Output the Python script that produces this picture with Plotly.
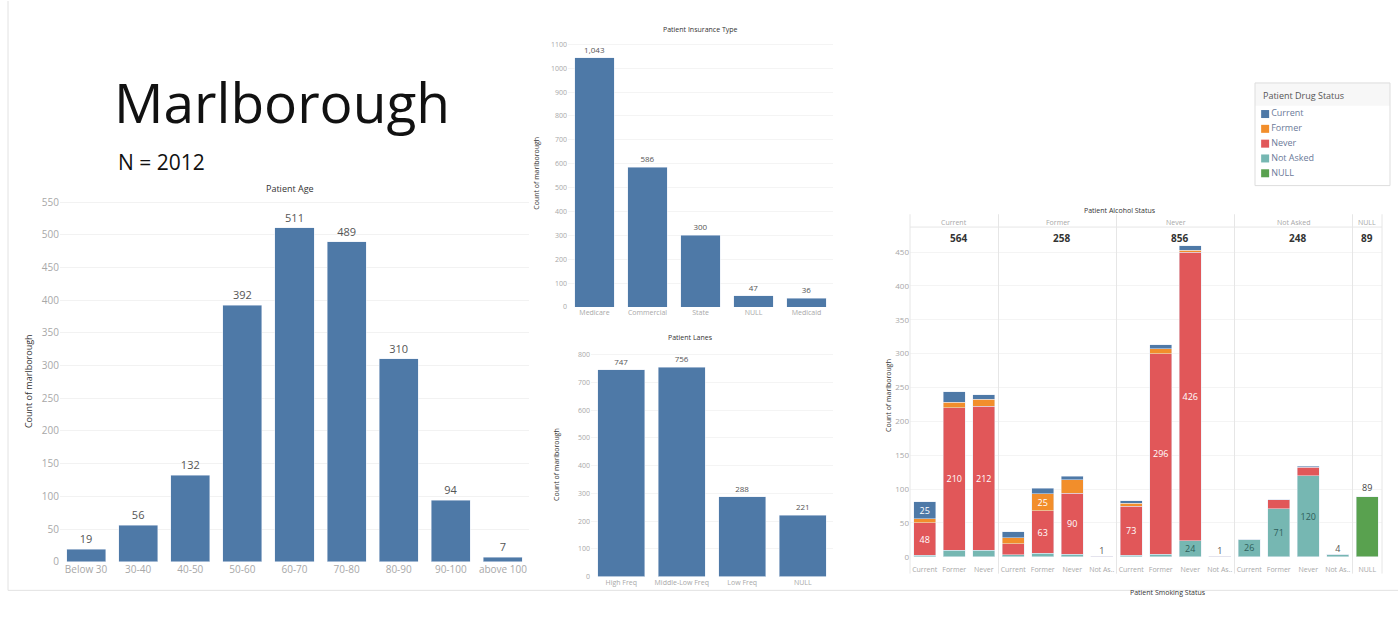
import plotly.graph_objects as go

W, H = 1398, 626

# ---------------- data ----------------
age_groups = ["Below 30", "30-40", "40-50", "50-60", "60-70", "70-80", "80-90", "90-100", "above 100"]
age_counts = [19, 56, 132, 392, 511, 489, 310, 94, 7]

insurance_types = ["Medicare", "Commercial", "State", "NULL", "Medicaid"]
insurance_counts = [1043, 586, 300, 47, 36]

lane_types = ["High Freq", "Middle-Low Freq", "Low Freq", "NULL"]
lane_counts = [747, 756, 288, 221]

alcohol_status = ["Current", "Former", "Never", "Not Asked", "NULL"]
smoking_by_alcohol = [
    ["Current", "Former", "Never"],
    ["Current", "Former", "Never", "Not Asked"],
    ["Current", "Former", "Never", "Not Asked"],
    ["Current", "Former", "Never", "Not Asked"],
    ["NULL"],
]
smoking_short = {"Current": "Current", "Former": "Former", "Never": "Never",
                 "Not Asked": "Not As..", "NULL": "NULL"}
# counts per drug status, one value per (alcohol, smoking) bar, in the order above
drug_current = [25, 16, 6, 9, 8, 5, 0, 4, 6, 6, 0, 0, 0, 2, 0, 0]
drug_former = [6, 8, 11, 9, 25, 20, 0, 4, 7, 3, 0, 0, 0, 0, 0, 0]
drug_never = [48, 210, 212, 16, 63, 90, 1, 73, 296, 426, 1, 0, 13, 12, 0, 0]
drug_not_asked = [2, 10, 10, 3, 5, 4, 0, 2, 4, 24, 0, 26, 71, 120, 4, 0]
drug_null = [0, 0, 0, 0, 0, 0, 0, 0, 0, 0, 0, 0, 0, 0, 0, 89]

# ---------------- helpers ----------------
def fx(p):
    return p / W

def fy(p):
    return 1 - p / H

BLUE = "#4e79a7"
TICK = "#a8a8a8"
LABEL = "#555555"
FONT = "Open Sans"

fig = go.Figure()
annotations = []
shapes = []

def note(x, y, text, size, color="#333333", angle=0, xanchor="center", yanchor="middle"):
    annotations.append(dict(x=fx(x), y=fy(y), xref="paper", yref="paper", text=text,
                            showarrow=False, textangle=angle, xanchor=xanchor, yanchor=yanchor,
                            font=dict(size=size, color=color, family=FONT)))

# ---------------- Patient Age ----------------
fig.add_trace(go.Bar(
    x=age_groups, y=age_counts, marker_color=BLUE, width=0.75,
    text=age_counts, textposition="outside", cliponaxis=False,
    textfont=dict(size=11, color=LABEL), xaxis="x", yaxis="y", showlegend=False,
))

# ---------------- Patient Insurance Type ----------------
fig.add_trace(go.Bar(
    x=insurance_types, y=insurance_counts, marker_color=BLUE, width=0.74,
    texttemplate="%{y:,}", textposition="outside", cliponaxis=False,
    textfont=dict(size=8, color=LABEL), xaxis="x2", yaxis="y2", showlegend=False,
))

# ---------------- Patient Lanes ----------------
fig.add_trace(go.Bar(
    x=lane_types, y=lane_counts, marker_color=BLUE, width=0.77,
    text=lane_counts, textposition="outside", cliponaxis=False,
    textfont=dict(size=8, color=LABEL), xaxis="x3", yaxis="y3", showlegend=False,
))

# ---------------- Patient Alcohol Status x Smoking Status ----------------
drug_series = [  # stacking order, bottom to top
    ("Not Asked", drug_not_asked, "#76b7b2", "#2f5f5b"),
    ("Never", drug_never, "#e15759", "#ffffff"),
    ("Former", drug_former, "#f28e2b", "#ffffff"),
    ("Current", drug_current, "#4e79a7", "#ffffff"),
    ("NULL", drug_null, "#59a14f", "#444444"),
]
legend_order = ["Current", "Former", "Never", "Not Asked", "NULL"]

slot = 29.5
panel_left = 910
panel_top, panel_bottom = 229, 563
y_max = (panel_bottom - panel_top) / 0.686

offsets = []
start = 0
for cats in smoking_by_alcohol:
    offsets.append(start)
    start += len(cats)

edges = []
left = panel_left
for cats in smoking_by_alcohol:
    right = left + slot * len(cats)
    edges.append((left, right))
    left = right

layout_axes = {}
for i, (alc, cats) in enumerate(zip(alcohol_status, smoking_by_alcohol)):
    k = i + 4
    xa, ya = f"x{k}", f"y{k}"
    sl = slice(offsets[i], offsets[i] + len(cats))
    for name, vals, color, tcolor in drug_series:
        seg = vals[sl]
        if not any(seg):
            continue
        if name == "NULL":
            texts = [str(v) if v else "" for v in seg]
            tpos = "outside"
        else:
            texts = [str(v) if v >= 23 else "" for v in seg]
            tpos = "inside"
        fig.add_trace(go.Bar(
            x=cats, y=seg, name=name, marker_color=color, width=0.75,
            text=texts, textposition=tpos, insidetextanchor="middle",
            textangle=0, constraintext="none", cliponaxis=False,
            textfont=dict(size=9, color=tcolor),
            showlegend=False, xaxis=xa, yaxis=ya,
        ))
    # totals above very small bars
    totals = [sum(s[1][j] for s in drug_series) for j in range(sl.start, sl.stop)]
    small = [(c, t) for c, t in zip(cats, totals) if t < 10]
    if small:
        fig.add_trace(go.Scatter(
            x=[c for c, _ in small], y=[t for _, t in small], mode="text",
            text=[str(t) for _, t in small], textposition="top center",
            textfont=dict(size=9, color=LABEL), cliponaxis=False,
            showlegend=False, hoverinfo="skip", xaxis=xa, yaxis=ya,
        ))
    l, r = edges[i]
    layout_axes[f"xaxis{k}"] = dict(
        domain=[fx(l), fx(r)], anchor=ya, type="category",
        categoryorder="array", categoryarray=cats, range=[-0.5, len(cats) - 0.5],
        tickmode="array", tickvals=cats, ticktext=[smoking_short[c] for c in cats],
        tickangle=0, showgrid=False, zeroline=False, showline=False,
        tickfont=dict(size=7, color=TICK), ticks="", ticklabelstandoff=7,
    )
    layout_axes[f"yaxis{k}"] = dict(
        domain=[fy(panel_bottom), fy(panel_top)], anchor=xa, range=[0, y_max],
        dtick=50, showgrid=True, gridcolor="#f4f4f4", zeroline=False,
        showticklabels=(i == 0), tickfont=dict(size=8, color=TICK),
        ticks="", **({} if i == 0 else {"matches": "y4"}),
    )
    note((l + r) / 2, 224, alc, 7, TICK)
    note((l + r) / 2 + (4 if len(cats) > 1 else 0), 240, f"<b>{sum(totals)}</b>", 10, "#333333")

# panel dividers and header line
for x in [e[0] for e in edges] + [edges[-1][1]]:
    shapes.append(dict(type="line", xref="paper", yref="paper", x0=fx(x), x1=fx(x),
                       y0=fy(580), y1=fy(216), line=dict(color="#e6e6e6", width=1)))
shapes.append(dict(type="line", xref="paper", yref="paper", x0=fx(edges[0][0]), x1=fx(edges[-1][1]),
                   y0=fy(panel_top), y1=fy(panel_top), line=dict(color="#e6e6e6", width=1)))

# ---------------- drug status legend ----------------
leg_left, leg_right, leg_top, leg_bottom = 1255, 1390, 83, 187
shapes.append(dict(type="rect", xref="paper", yref="paper", x0=fx(leg_left), x1=fx(leg_right),
                   y0=fy(leg_bottom), y1=fy(leg_top), line=dict(color="#dddddd", width=1),
                   fillcolor="rgba(0,0,0,0)"))
shapes.append(dict(type="rect", xref="paper", yref="paper", x0=fx(leg_left), x1=fx(leg_right),
                   y0=fy(106), y1=fy(leg_top), line=dict(width=0), fillcolor="#f7f7f7", layer="below"))
note(leg_left + 6, 96, "Patient Drug Status", 9, "#555555", xanchor="left")
color_of = {name: color for name, _, color, _ in drug_series}
fig.add_trace(go.Scatter(
    x=[0] * len(legend_order), y=legend_order, mode="markers+text",
    marker=dict(symbol="square", size=8, color=[color_of[n] for n in legend_order]),
    text=legend_order, textposition="middle right", textfont=dict(size=9, color="#6b7a99"),
    showlegend=False, hoverinfo="skip", xaxis="x9", yaxis="y9", cliponaxis=False,
))
layout_axes["xaxis9"] = dict(domain=[fx(1259), fx(1388)], anchor="y9", range=[-0.6, 12],
                             visible=False, fixedrange=True)
layout_axes["yaxis9"] = dict(domain=[fy(182), fy(107)], anchor="x9", type="category",
                             categoryorder="array", categoryarray=legend_order[::-1],
                             range=[-0.5, len(legend_order) - 0.5], visible=False, fixedrange=True)

# page frame
shapes.append(dict(type="line", xref="paper", yref="paper", x0=fx(8), x1=fx(8),
                   y0=fy(597), y1=1, line=dict(color="#e2e2e2", width=1)))
shapes.append(dict(type="line", xref="paper", yref="paper", x0=fx(8), x1=1,
                   y0=fy(597), y1=fy(597), line=dict(color="#e2e2e2", width=1)))

# ---------------- titles ----------------
note(112, 102, "Marlborough", 55, "#111111", xanchor="left")
note(116, 163, "N = 2012", 21, "#111111", xanchor="left")
note(290, 190, "Patient Age", 9)
note(28, 385, "Count of marlborough", 9, angle=-90)
note(700, 29, "Patient Insurance Type", 7)
note(537, 175, "Count of marlborough", 7, angle=-90)
note(690, 341, "Patient Lanes", 7)
note(557, 470, "Count of marlborough", 7, angle=-90)
note(1120, 212, "Patient Alcohol Status", 7)
note(889, 400, "Count of marlborough", 7, angle=-90)
note(1168, 599, "Patient Smoking Status", 7)

common_x = dict(type="category", showgrid=False, zeroline=False, showline=False, ticks="", tickangle=0)

fig.update_layout(
    width=W, height=H, margin=dict(l=0, r=0, t=0, b=0),
    paper_bgcolor="white", plot_bgcolor="white",
    font=dict(family=FONT, color="#555555"),
    barmode="stack", bargap=0.25, showlegend=False,
    xaxis=dict(domain=[fx(60), fx(529)], anchor="y", tickfont=dict(size=10, color=TICK), **common_x),
    yaxis=dict(domain=[fy(568), fy(197)], anchor="x", range=[0, 560], dtick=50,
               gridcolor="#f2f2f2", zeroline=False, tickfont=dict(size=10, color=TICK)),
    xaxis2=dict(domain=[fx(568), fx(833)], anchor="y2", tickfont=dict(size=7, color=TICK), **common_x),
    yaxis2=dict(domain=[fy(310), fy(39)], anchor="x2", range=[0, 1120], dtick=100,
                gridcolor="#f4f4f4", zeroline=False, tickfont=dict(size=7, color=TICK)),
    xaxis3=dict(domain=[fx(591), fx(833)], anchor="y3", tickfont=dict(size=7, color=TICK), **common_x),
    yaxis3=dict(domain=[fy(583), fy(350)], anchor="x3", range=[0, 830], dtick=100,
                gridcolor="#f4f4f4", zeroline=False, tickfont=dict(size=7, color=TICK)),
    **layout_axes,
    annotations=annotations, shapes=shapes,
)

fig.write_html("out.html")
